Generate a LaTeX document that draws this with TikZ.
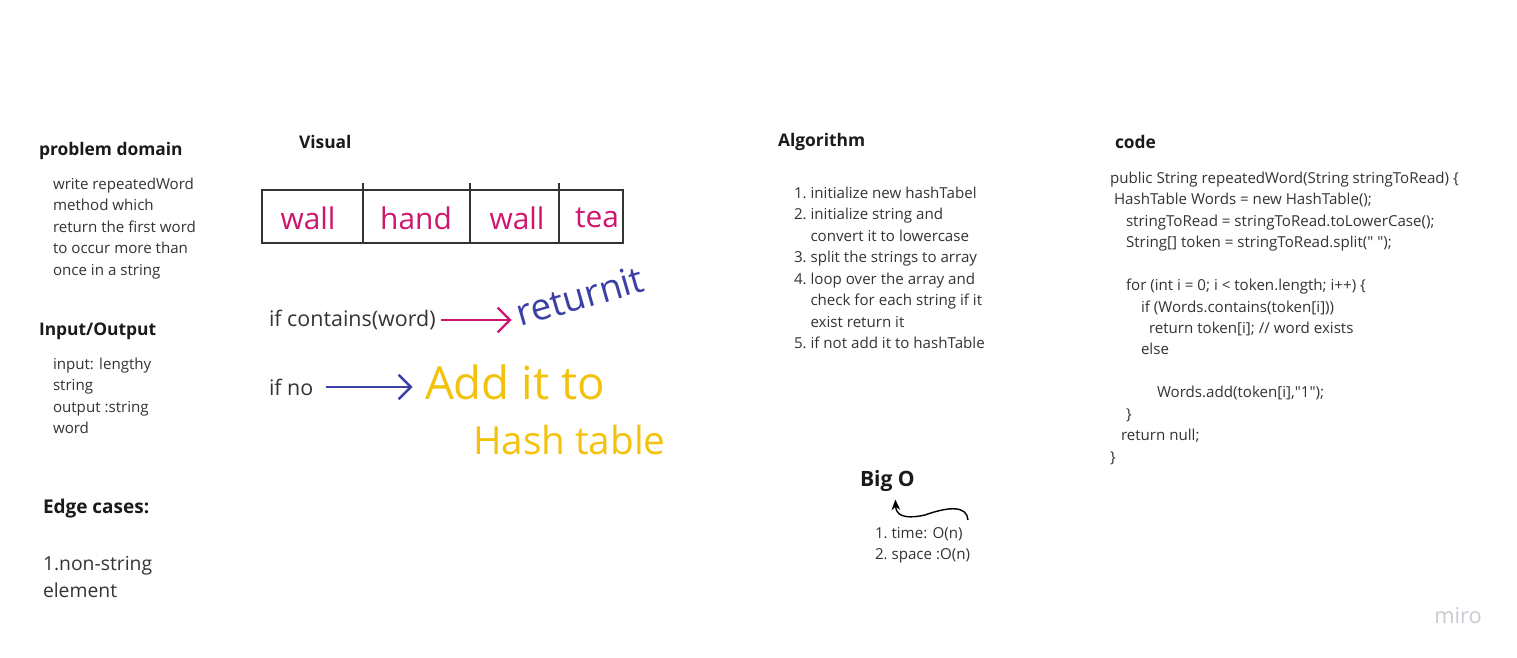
\documentclass[tikz,border=0pt]{standalone}
\usepackage{fontspec}
\setmainfont{Open Sans}
\usetikzlibrary{arrows.meta}

\definecolor{inkpink}{HTML}{D0156E}
\definecolor{inkblue}{HTML}{3C3FA4}
\definecolor{inkyellow}{HTML}{F4C20D}
\definecolor{textgray}{HTML}{333333}
\definecolor{headblack}{HTML}{1A1A1A}
\definecolor{logogray}{HTML}{C9C9D2}

\begin{document}
\begin{tikzpicture}[
            x=0.02cm,
            y=-0.02cm,
            every node/.style={
                inner sep=0pt,
                outer sep=0pt
            },
            heading/.style={
                anchor=west,
                font=\fontsize{9.9}{12}\selectfont\bfseries,
                text=headblack
            },
            body/.style={
                anchor=north west,
                align=left,
                font=\fontsize{8.6}{12.2}\selectfont,
                text=textgray
            },
            bigtext/.style={
                anchor=west,
                align=left,
                font=\fontsize{11}{15.3}\selectfont,
                text=textgray
            },
            hand/.style={
                font=\fontsize{17}{20}\selectfont,
                text=inkpink
            },
            cellbar/.style={draw=textgray, line width=0.6pt},
            inkarrow/.style={
                line width=1.4pt,
                -{Straight Barb[length=7pt,width=14pt]}
            }
        ]
            \useasboundingbox (0,0) rectangle (1517,658);

            % problem domain
            \node[heading] (pdhead) at (39,151) {problem domain};
            \node[body] (pdtext) at (53,178) {write repeatedWord\\method which\\return the first word\\to occur more than\\once in a string};

            \node[heading] (iohead) at (39,331) {Input/Output};
            \node[body] (iotext) at (53,358) {input: lengthy\\string\\output :string\\word};

            \node[heading, font=\fontsize{10.8}{14}\selectfont\bfseries] (edgehead) at (43,509) {Edge cases:};
            \node[bigtext, anchor=north west] (edgetext) at (43,556) {1.non-string\\element};

            % visual
            \node[heading] (vishead) at (299,142) {Visual};
            \draw[line width=1.2pt, draw=textgray] (262,190) rectangle (623,243);
            \foreach \x in {363,470,559}
                \draw[cellbar] (\x,183) -- (\x,243);
            \node[hand] (w1) at (308,218) {wall};
            \node[hand] (w2) at (416,218) {hand};
            \node[hand] (w3) at (517,218) {wall};
            \node[hand] (w4) at (597,218) {tea};

            \node[bigtext, font=\fontsize{12.2}{15}\selectfont] (cond) at (269,320) {if contains(word)};
            \node[bigtext, font=\fontsize{12.2}{15}\selectfont] (nocond) at (269,387) {if no};
            \node[hand, text=inkblue, font=\fontsize{21}{24}\selectfont, anchor=west, rotate=16] (ret) at (517,314) {returnit};
            \node[hand, text=inkyellow, font=\fontsize{26}{30}\selectfont, anchor=west] (addit) at (425,382) {Add it to};
            \node[hand, text=inkyellow, font=\fontsize{22}{26}\selectfont, anchor=west] (hashtab) at (473,440) {Hash table};

            \draw[inkarrow, draw=inkpink, shorten <=3pt, shorten >=3pt] (cond.east) -- (ret.west |- cond.east);
            \draw[inkarrow, draw=inkblue, shorten <=7pt, shorten >=7pt] (nocond.east) -- (addit.west |- nocond.east);

            % algorithm
            \node[heading] (alghead) at (778,142) {Algorithm};
            \node[body] (algtext) at (794,187) {1.~initialize new hashTabel\\2.~initialize string and\\\hspace*{0.33cm}convert it to lowercase\\3.~split the strings to array\\4.~loop over the array and\\\hspace*{0.33cm}check for each string if it\\\hspace*{0.33cm}exist return it\\5.~if not add it to hashTable};

            % big o
            \node[heading, font=\fontsize{12}{14}\selectfont\bfseries] (bigo) at (860,481) {Big O};
            \node[body] (bigotext) at (875,527) {1.~time: O(n)\\2.~space :O(n)};
            \coordinate (curlstart) at (968,520);
            \draw[line width=0.8pt, -{Stealth[length=6pt,width=5pt]}] (curlstart) .. controls (967,506) and (950,506) .. (925,515) .. controls (902,520) and (896,514) .. ([shift={(8,8)}]bigo.south);

            % code
            \node[heading] (codehead) at (1115,142) {code};
            \node[body] (codetext) at (1110,172) {public String repeatedWord(String stringToRead) \{\\\hspace*{0.08cm}HashTable Words = new HashTable();\\\hspace*{0.32cm}stringToRead = stringToRead.toLowerCase();\\\hspace*{0.32cm}String[] token = stringToRead.split(\textquotedbl\ \textquotedbl);\\\mbox{}\\\hspace*{0.32cm}for (int i = 0; i < token.length; i++) \{\\\hspace*{0.62cm}if (Words.contains(token[i]))\\\hspace*{0.78cm}return token[i]; // word exists\\\hspace*{0.62cm}else\\\mbox{}\\\hspace*{0.94cm}Words.add(token[i],\textquotedbl 1\textquotedbl);\\\hspace*{0.32cm}\}\\\hspace*{0.22cm}return null;\\\}};

            \node[font=\fontsize{12.4}{14}\selectfont, text=logogray] (logo) at (1458,616) {miro};
        \end{tikzpicture}
\end{document}
